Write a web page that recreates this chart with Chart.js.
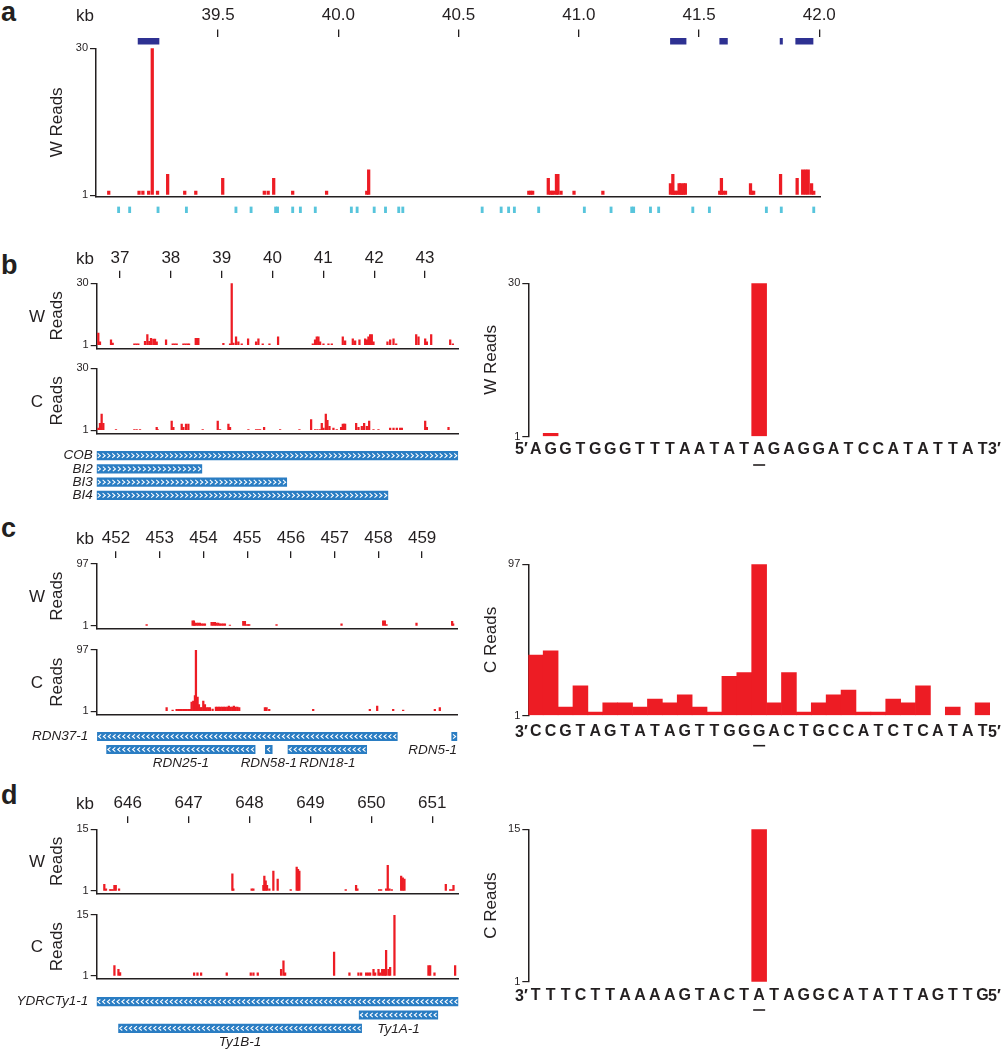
<!DOCTYPE html>
<html>
<head>
<meta charset="utf-8">
<script src="https://cdn.jsdelivr.net/npm/chart.js@4.4.1/dist/chart.umd.min.js"></script>
<style>
html,body{margin:0;padding:0;background:#fff;}
body{width:1005px;height:1050px;position:relative;overflow:hidden;font-family:"Liberation Sans",Arial,Helvetica,sans-serif;color:#231f20;}
canvas{position:absolute;}
.t{position:absolute;line-height:1;white-space:nowrap;color:#231f20;}
</style>
</head>
<body>
<script>
// ================= DATA =================
// ---- panel a ----
const aTicks = [39.5, 40.0, 40.5, 41.0, 41.5, 42.0];
const aReadPos = [39.045,39.171,39.187,39.211,39.226,39.248,39.290,39.361,39.407,39.519,39.692,39.708,39.731,39.810,39.951,40.118,40.126,
  40.792,40.800,40.808,40.873,40.882,40.889,40.896,40.907,40.913,40.926,40.980,41.100,
  41.381,41.391,41.395,41.402,41.409,41.417,41.424,41.429,41.436,41.443,
  41.586,41.593,41.600,41.610,41.714,41.720,41.727,41.839,41.908,41.931,41.943,41.954,41.968,41.977];
const aReadVal = [1.8,1.8,1.8,1.8,30,1.8,5.1,1.8,1.8,4.3,1.8,1.8,4.3,1.8,1.8,1.8,6,
  1.8,1.8,1.8,4.3,1.8,1.8,1.8,5.1,5.1,1.8,1.8,1.8,
  3.3,5.1,1.8,1.8,1.8,3.3,3.3,1.8,3.3,3.3,
  1.8,4.3,1.8,1.8,3.3,1.8,1.8,5.1,4.3,6,6,6,3.3,1.8];
const aFeatStart = [39.167, 41.381, 41.586, 41.837, 41.902];
const aFeatEnd   = [39.254, 41.446, 41.618, 41.847, 41.974];
const aSites = [39.086,39.132,39.250,39.368,39.574,39.637,39.739,39.747,39.810,39.842,39.904,40.054,40.078,40.149,40.196,40.251,40.268,
  40.598,40.677,40.708,40.732,40.833,41.023,41.134,41.220,41.228,41.298,41.332,41.474,41.543,41.780,41.842,41.977];

// ---- panel b ----
const bTicks = [37, 38, 39, 40, 41, 42, 43];
const bWPos = [36.573,36.606,36.823,36.856,37.282,37.322,37.361,37.492,37.538,37.577,37.610,37.656,37.689,37.722,37.906,38.037,38.076,38.115,
  38.247,38.286,38.325,38.358,38.490,38.516,38.542,39.034,39.165,39.198,39.231,39.283,39.329,39.395,39.520,39.677,39.723,39.808,39.940,40.110,
  40.793,40.837,40.871,40.904,40.937,41.003,41.101,41.167,41.383,41.429,41.580,41.626,41.711,41.823,41.856,41.888,41.921,41.954,41.987,
  42.262,42.315,42.381,42.433,42.827,42.873,43.004,43.037,43.122,43.496,43.549];
const bWVal = [6.7,2.6,3.6,2.1,1.7,1.7,1.7,2.9,6,2.9,4.3,3.9,3.9,2.6,3.6,1.7,1.7,1.7,
  1.7,1.7,1.7,1.7,4.3,4.3,4.3,2,1.7,30,2.1,5,2.6,1.7,4,2.6,4,1.7,1.7,5,
  1.7,3.6,5,5,2.6,1.7,1.7,1.7,5,3.1,4,3.1,3.6,4,3.6,5,6,6,2.6,
  2.6,3.6,4,1.7,6,5,4,2.6,6,3.6,1.7];
const bCPos = [36.573,36.606,36.639,36.672,36.921,37.282,37.328,37.394,37.722,37.741,38.017,38.050,38.214,38.247,38.299,38.345,38.627,38.923,38.969,
  39.133,39.165,39.526,39.677,39.717,39.756,39.835,40.150,40.530,40.760,40.839,40.885,40.937,40.970,41.003,41.049,41.081,41.121,41.199,41.265,
  41.350,41.383,41.409,41.429,41.646,41.692,41.757,41.803,41.856,41.902,41.987,42.085,42.315,42.381,42.446,42.512,42.545,43.004,43.037,43.463];
const bCVal = [2.1,4.3,8.6,4.3,1.4,1.4,1.4,1.4,2.4,1.4,5.3,2.4,3.9,2.4,3.9,3.9,1.4,5.3,1.4,
  3.9,2.4,1.4,1.4,1.4,1.4,2.4,1.4,1.4,6.1,1.4,1.4,1.4,4.3,2.1,8.6,5.7,2.9,2.1,1.4,
  2.4,3.9,3.9,3.9,4.3,2.4,2.9,4.3,2.9,5.3,1.4,1.4,2.1,2.1,2.1,2.1,2.1,5.3,2.4,2.4];
const bGeneNames = ['COB', 'BI2', 'BI3', 'BI4'];
const bGeneRow   = [0, 1, 2, 3];
const bGeneStart = [36.540, 36.540, 36.540, 36.540];
const bGeneEnd   = [43.647, 38.610, 40.280, 42.270];
const bGeneDir   = [1, 1, 1, 1];
const bSeq = ['A','G','G','T','G','G','G','T','T','T','A','A','T','A','T','A','G','A','G','G','A','T','C','C','A','T','A','T','T','A','T'];
const bSeqVal = [null,1.6,null,null,null,null,null,null,null,null,null,null,null,null,null,30,null,null,null,null,null,null,null,null,null,null,null,null,null,null,null];

// ---- panel c ----
const cTicks = [452, 453, 454, 455, 456, 457, 458, 459];
const cWPos = [452.701,453.752,453.782,453.805,453.843,453.881,453.920,453.958,453.996,454.034,454.186,454.224,454.262,454.300,454.339,454.377,
  454.415,454.453,454.491,454.605,454.910,454.948,454.986,455.024,455.047,455.671,457.157,458.109,458.147,458.185,458.871,459.686,459.709];
const cWVal = [3.4,9.1,9.1,5.7,5.7,5.7,5.7,4.3,4.3,4.3,6.7,6.7,6.7,5.7,5.7,4.3,
  4.3,4.3,4.3,2.4,8.1,8.1,3.4,3.4,3.4,3.4,4.3,9.1,9.1,3.4,5.7,8.1,4.3];
const cCPos = [453.158,453.295,453.386,453.425,453.463,453.501,453.539,453.577,453.615,453.653,453.691,453.729,453.767,453.805,453.828,453.866,
  453.897,453.935,453.958,453.996,454.034,454.072,454.110,454.148,454.209,454.285,454.320,454.355,454.392,454.430,454.468,454.505,454.544,
  454.580,454.620,454.658,454.695,454.735,454.775,454.818,455.405,455.443,455.504,456.509,457.804,457.972,458.338,458.566,459.290,459.404];
const cCVal = [6.7,2.9,3.9,3.9,3.9,3.9,3.9,3.9,3.9,3.9,3.9,15.3,17.2,25.8,97,23.4,
  11.5,6.7,6.7,17.2,11.5,6.7,6.7,6.7,4.3,7.7,7.7,7.7,7.7,7.7,7.7,7.7,7.7,
  9.1,7.7,7.7,9.1,7.7,7.7,6.7,6.7,6.7,3.9,3.9,3.9,9.1,3.9,2.9,3.9,6.7];
const cGeneNames = ['RDN37-1', 'RDN5-1', 'RDN25-1', 'RDN58-1', 'RDN18-1'];
const cGeneRow   = [0, 0, 1, 1, 1];
const cGeneStart = [451.575, 459.676, 451.786, 455.415, 455.933];
const cGeneEnd   = [458.432, 459.796, 455.181, 455.572, 457.732];
const cGeneDir   = [-1, 1, -1, -1, -1];
const cSeq = ['C','C','G','T','A','G','T','A','T','A','G','T','T','G','G','G','A','C','T','G','C','C','A','T','C','T','C','A','T','A','T'];
const cSeqVal = [39.4,42,6.3,19.9,3.1,9,9,6.3,11.5,9,14.2,6.3,3.1,25.8,28.3,97,9,28.3,3.1,9,14.2,17.2,3.1,3.1,11.5,9,19.9,null,6.3,null,9];

// ---- panel d ----
const dTicks = [646, 647, 648, 649, 650, 651];
const dWPos = [645.616,645.644,645.710,645.732,645.754,645.782,645.804,645.858,647.718,647.734,648.035,648.063,648.227,648.243,648.265,648.287,
  648.325,648.391,648.462,648.676,648.774,648.796,648.818,649.579,649.749,649.771,650.127,650.160,650.242,650.269,650.297,650.335,650.489,
  650.516,650.543,651.222,651.293,651.320,651.348];
const dWVal = [2.5,1.5,1.3,1.3,1.3,2.3,2.3,1.5,4.9,1.5,1.5,1.5,2.3,4.4,3.3,2.3,
  1.5,5.5,3.7,1.3,6.4,5.9,5.5,1.3,2.3,1.5,1.3,1.3,1.5,6.8,1.5,1.3,4.4,
  4.0,3.7,2.5,1.3,1.3,2.3];
const dCPos = [645.782,645.848,645.875,647.090,647.145,647.205,647.626,648.020,648.064,648.135,648.518,648.557,648.584,649.388,649.640,649.788,
  649.832,649.914,649.947,649.980,650.035,650.062,650.117,650.144,650.177,650.199,650.221,650.242,650.281,650.308,650.379,650.937,650.965,651.036,651.375];
const dCVal = [3.4,2.5,1.8,1.7,1.7,1.7,1.7,1.7,1.7,1.7,2.5,4.5,1.7,6.5,1.7,1.7,
  1.7,1.7,1.7,1.7,2.5,1.7,2.5,1.7,2.5,2.5,2.5,6.9,2.5,3.0,15,3.4,3.4,1.7,3.4];
const dGeneNames = ['YDRCTy1-1', 'Ty1A-1', 'Ty1B-1'];
const dGeneRow   = [0, 1, 2];
const dGeneStart = [645.490, 649.800, 645.850];
const dGeneEnd   = [651.430, 651.090, 649.840];
const dGeneDir   = [-1, -1, -1];
const dSeq = ['T','T','T','C','T','T','A','A','A','A','G','T','A','C','T','A','T','A','G','G','C','A','T','A','T','T','A','G','T','T','G'];
const dSeqVal = [null,null,null,null,null,null,null,null,null,null,null,null,null,null,null,15,null,null,null,null,null,null,null,null,null,null,null,null,null,null,null];

// ================= STYLE / HELPERS =================
const RED = '#ed1c24', NAVY = '#2e3192', CYAN = '#58c5dc', BLUE = '#2a7dc3', INK = '#231f20';
Chart.defaults.font.family = '"Liberation Sans", Arial, Helvetica, sans-serif';
Chart.defaults.color = INK;
Chart.defaults.animation = false;
Chart.defaults.plugins.legend.display = false;
Chart.defaults.plugins.tooltip.enabled = false;

const chevrons = {
  id: 'chevrons',
  afterDatasetsDraw(chart, args, opts) {
    const dirs = opts && opts.dirs;
    if (!dirs) return;
    const ctx = chart.ctx;
    ctx.save();
    ctx.strokeStyle = '#ffffff';
    ctx.lineWidth = 1.1;
    chart.getDatasetMeta(0).data.forEach((el, i) => {
      const dir = dirs[i] || 1;
      const p = el.getProps(['x', 'y', 'base', 'height'], true);
      const l = Math.min(p.x, p.base), r = Math.max(p.x, p.base);
      const hh = 2.2, w = 1.3;
      const n = Math.max(1, Math.floor((r - l - 1) / 4.8));
      const step = (r - l) / n;
      ctx.beginPath();
      for (let k = 0; k < n; k++) {
        const cx = l + step * (k + 0.5);
        ctx.moveTo(cx - dir * w, p.y - hh);
        ctx.lineTo(cx + dir * w, p.y);
        ctx.lineTo(cx - dir * w, p.y + hh);
      }
      ctx.stroke();
    });
    ctx.restore();
  }
};
const underline = {
  id: 'underline',
  afterDraw(chart, args, opts) {
    if (!opts || opts.index == null) return;
    const x = chart.scales.x.getPixelForValue(opts.index);
    const y = chart.chartArea.bottom + opts.offset;
    const ctx = chart.ctx;
    ctx.save();
    ctx.strokeStyle = INK; ctx.lineWidth = 1.6;
    ctx.beginPath(); ctx.moveTo(x - 6, y); ctx.lineTo(x + 6, y); ctx.stroke();
    ctx.restore();
  }
};
Chart.register(chevrons, underline);

function txt(str, x, base, size, align, css) {
  const d = document.createElement('div');
  d.className = 't';
  d.textContent = str;
  d.style.fontSize = size + 'px';
  d.style.top = (base - 0.8465 * size) + 'px';
  d.style.left = x + 'px';
  if (align === 'center') d.style.transform = 'translateX(-50%)';
  else if (align === 'right') d.style.transform = 'translateX(-100%)';
  if (css) Object.assign(d.style, css);
  document.body.appendChild(d);
  return d;
}

function mk(area, ext, sz, cfg) {
  const L = Math.floor(area.x0 - ext.l), T = Math.floor(area.y0 - ext.t);
  const R = Math.ceil(area.x1 + ext.r), B = Math.ceil(area.y1 + ext.b);
  const c = document.createElement('canvas');
  c.width = R - L; c.height = B - T;
  c.style.left = L + 'px'; c.style.top = T + 'px';
  c.style.width = (R - L) + 'px'; c.style.height = (B - T) + 'px';
  document.body.appendChild(c);
  cfg.options = cfg.options || {};
  cfg.options.responsive = false;
  cfg.options.devicePixelRatio = 1;
  cfg.options.layout = {padding: {
    left: area.x0 - L - (sz.yW || 0), right: R - area.x1,
    top: area.y0 - T - (sz.topH || 0), bottom: B - area.y1 - (sz.botH || 0)}};
  const ch = new Chart(c, cfg);
  ch.$L = L; ch.$T = T;
  return ch;
}

function yAxis(ymin, ymax, yW, title) {
  return {type: 'linear', min: ymin, max: ymax,
    afterBuildTicks: s => { s.ticks = [{value: 1}, {value: ymax}]; },
    afterFit: s => { s.width = yW; },
    ticks: {font: {size: 11}, padding: 2, color: INK, autoSkip: false},
    grid: {display: true, drawOnChartArea: false, drawTicks: true, tickLength: 6, color: INK, lineWidth: 1.2},
    border: {display: true, color: INK, width: 1.5},
    title: {display: true, text: title, font: {size: 17}, padding: 0, color: INK}};
}

function rulerChart(area, xmin, xmax, ticks, digits, pad, fs, fe) {
  const ds = fs ? fs.map((s, i) => ({x: [s, fe[i]], y: 0.5})) : [];
  const ch = mk(area, {l: area.x0, r: 25, t: 35, b: 0}, {topH: 35}, {
    type: 'bar',
    data: {datasets: [{data: ds, backgroundColor: NAVY, barThickness: 6, borderWidth: 0}]},
    options: {
      indexAxis: 'y',
      scales: {
        x: {type: 'linear', position: 'top', min: xmin, max: xmax, offset: false,
          afterBuildTicks: s => { s.ticks = ticks.map(v => ({value: v})); },
          afterFit: s => { s.height = 35; },
          ticks: {callback: v => Number(v).toFixed(digits), font: {size: 17}, padding: pad, maxRotation: 0, autoSkip: false, color: INK},
          grid: {display: true, drawOnChartArea: false, drawTicks: true, tickLength: 7, color: INK, lineWidth: 1.3},
          border: {display: false}},
        y: {type: 'linear', display: false, min: 0, max: 1, offset: false}
      }
    }
  });
  const cy = ch.$T + ch.scales.x.bottom - 7 - pad - 10.2;
  txt('kb', 94, cy + 0.358 * 17, 17, 'right');
  return ch;
}

function readsChart(area, xmin, xmax, ymin, ymax, pos, val, thick, title, yW, strand) {
  const ch = mk(area, {l: area.x0, r: 25, t: 10, b: 2}, {yW: yW, botH: 0}, {
    type: 'bar',
    data: {datasets: [{data: pos.map((p, i) => ({x: p, y: val[i]})), backgroundColor: RED, barThickness: thick, base: 1, borderWidth: 0}]},
    options: {
      scales: {
        x: {type: 'linear', min: xmin, max: xmax, offset: false, afterFit: s => { s.height = 0; },
          ticks: {display: false}, grid: {display: true, drawOnChartArea: false, drawTicks: false, offset: false},
          border: {display: true, color: INK, width: 1.5}},
        y: yAxis(ymin, ymax, yW, title)
      }
    }
  });
  if (strand) {
    const cy = ch.$T + (ch.chartArea.top + ch.chartArea.bottom) / 2;
    txt(strand, 37, cy + 0.358 * 17, 17, 'center');
  }
  return ch;
}

function siteChart(area, xmin, xmax, pos) {
  return mk(area, {l: area.x0, r: 25, t: 0, b: 0}, {}, {
    type: 'bar',
    data: {datasets: [{data: pos.map(p => ({x: p, y: [0, 1]})), backgroundColor: CYAN, barThickness: 2.2, borderWidth: 0}]},
    options: {scales: {
      x: {type: 'linear', display: false, min: xmin, max: xmax, offset: false},
      y: {type: 'linear', display: false, min: 0, max: 1}}}
  });
}

function geneChart(area, xmin, xmax, nRows, rowLabels, rows, gs, ge, dirs, pad) {
  return mk(area, {l: area.x0, r: 25, t: 20, b: 20}, {yW: 90}, {
    type: 'bar',
    data: {datasets: [{data: gs.map((s, i) => ({x: [s, ge[i]], y: rows[i]})), backgroundColor: BLUE, barThickness: 8.5, borderWidth: 0}]},
    options: {
      indexAxis: 'y',
      scales: {
        x: {type: 'linear', display: false, min: xmin, max: xmax},
        y: {type: 'linear', reverse: true, min: -0.5, max: nRows - 0.5, offset: false,
          afterBuildTicks: s => { s.ticks = rowLabels.map((_, i) => ({value: i})); },
          afterFit: s => { s.width = 90; },
          ticks: {callback: v => rowLabels[v] || '', font: {size: 13.5, style: 'italic'}, padding: pad, color: INK, autoSkip: false},
          grid: {display: false, drawTicks: false, offset: false}, border: {display: false}}
      },
      plugins: {chevrons: {dirs: dirs}}
    }
  });
}
function geneLabel(ch, str, kb, row, align) {
  const x = ch.$L + ch.scales.x.getPixelForValue(kb);
  const y = ch.$T + ch.scales.y.getPixelForValue(row);
  txt(str, x, y + 0.358 * 13.5, 13.5, align, {fontStyle: 'italic'});
}

function seqChart(area, letters, vals, ymax, title, uIdx, pad, uOff, p5, p3) {
  const ch = mk(area, {l: 58.3, r: 15, t: 10, b: 40}, {yW: 47, botH: 40}, {
    type: 'bar',
    data: {labels: letters, datasets: [{data: vals, backgroundColor: RED, barPercentage: 1, categoryPercentage: 1, base: 1, borderWidth: 0}]},
    options: {
      scales: {
        x: {type: 'category', afterFit: s => { s.height = 40; },
          ticks: {font: {size: 16, weight: 'bold'}, padding: pad, autoSkip: false, maxRotation: 0, minRotation: 0, color: INK},
          grid: {display: false, drawTicks: false}, border: {display: false}},
        y: yAxis(1, ymax, 47, title)
      },
      plugins: {underline: {index: uIdx, offset: uOff}}
    }
  });
  const sx = ch.scales.x;
  const base = ch.$T + ch.chartArea.bottom + pad + 9.6 + 0.358 * 16;
  txt(p5, ch.$L + sx.getPixelForValue(0) - 8, base, 16, 'right', {fontWeight: 'bold'});
  txt(p3, ch.$L + sx.getPixelForValue(letters.length - 1) + 5.5, base, 16, 'left', {fontWeight: 'bold'});
  return ch;
}

// ================= BUILD =================
txt('a', 1, 21.5, 27, 'left', {fontWeight: 'bold'});
txt('b', 1, 275, 27, 'left', {fontWeight: 'bold'});
txt('c', 1, 538, 27, 'left', {fontWeight: 'bold'});
txt('d', 1, 805, 27, 'left', {fontWeight: 'bold'});

// ---- a ----
const AX = {x0: 96, x1: 820, min: 38.992, max: 42.003};
rulerChart({x0: AX.x0, x1: AX.x1, y0: 36.5, y1: 46}, AX.min, AX.max, aTicks, 1, 3.5, aFeatStart, aFeatEnd);
readsChart({x0: AX.x0, x1: AX.x1, y0: 48.3, y1: 203}, AX.min, AX.max, 0.75, 30, aReadPos, aReadVal, 2.6, 'W Reads', 49, null);
siteChart({x0: AX.x0, x1: AX.x1, y0: 206.5, y1: 213}, AX.min, AX.max, aSites);

// ---- b ----
const BX = {x0: 96.7, x1: 458.3, min: 36.5416, max: 43.6555};
rulerChart({x0: BX.x0, x1: BX.x1, y0: 277.7, y1: 279.7}, BX.min, BX.max, bTicks, 0, 2.5);
readsChart({x0: BX.x0, x1: BX.x1, y0: 283.3, y1: 354.3}, BX.min, BX.max, -0.414, 30, bWPos, bWVal, 1.6, 'Reads', 50, 'W');
readsChart({x0: BX.x0, x1: BX.x1, y0: 368.3, y1: 439.3}, BX.min, BX.max, -0.414, 30, bCPos, bCVal, 1.6, 'Reads', 50, 'C');
geneChart({x0: BX.x0, x1: BX.x1, y0: 449, y1: 502}, BX.min, BX.max, 4, bGeneNames, bGeneRow, bGeneStart, bGeneEnd, bGeneDir, 4);
seqChart({x0: 528.3, x1: 990, y0: 283.3, y1: 436.5}, bSeq, bSeqVal, 30, 'W Reads', 15, 3.1, 28.5, '5\u2032', '3\u2032');

// ---- c ----
const CX = {x0: 96.7, x1: 457.7, min: 451.559, max: 459.813};
rulerChart({x0: CX.x0, x1: CX.x1, y0: 558.3, y1: 560.3}, CX.min, CX.max, cTicks, 0, 2.5);
readsChart({x0: CX.x0, x1: CX.x1, y0: 564, y1: 634.3}, CX.min, CX.max, -2.7, 97, cWPos, cWVal, 1.6, 'Reads', 50, 'W');
readsChart({x0: CX.x0, x1: CX.x1, y0: 650, y1: 720.7}, CX.min, CX.max, -3.85, 97, cCPos, cCVal, 1.6, 'Reads', 50, 'C');
const gC = geneChart({x0: CX.x0, x1: CX.x1, y0: 730, y1: 756}, CX.min, CX.max, 2, [cGeneNames[0], ''], cGeneRow, cGeneStart, cGeneEnd, cGeneDir, 8.4);
geneLabel(gC, cGeneNames[1], cGeneEnd[1], 1, 'right');
for (let i = 2; i < 5; i++) geneLabel(gC, cGeneNames[i], (cGeneStart[i] + cGeneEnd[i]) / 2, 2, 'center');
seqChart({x0: 528.3, x1: 990, y0: 564.3, y1: 715.5}, cSeq, cSeqVal, 97, 'C Reads', 15, 6.4, 30.2, '3\u2032', '5\u2032');

// ---- d ----
const DX = {x0: 96.7, x1: 458.3, min: 645.491, max: 651.427};
rulerChart({x0: DX.x0, x1: DX.x1, y0: 823.3, y1: 825.3}, DX.min, DX.max, dTicks, 0, 2.5);
readsChart({x0: DX.x0, x1: DX.x1, y0: 829.3, y1: 900}, DX.min, DX.max, 0.444, 15, dWPos, dWVal, 1.6, 'Reads', 50, 'W');
readsChart({x0: DX.x0, x1: DX.x1, y0: 915, y1: 985}, DX.min, DX.max, 0.44, 15, dCPos, dCVal, 1.6, 'Reads', 50, 'C');
const gD = geneChart({x0: DX.x0, x1: DX.x1, y0: 995, y1: 1035}, DX.min, DX.max, 3, [dGeneNames[0], '', ''], dGeneRow, dGeneStart, dGeneEnd, dGeneDir, 8.4);
geneLabel(gD, dGeneNames[1], (dGeneStart[1] + dGeneEnd[1]) / 2, 2, 'center');
geneLabel(gD, dGeneNames[2], (dGeneStart[2] + dGeneEnd[2]) / 2, 3, 'center');
seqChart({x0: 528.3, x1: 990, y0: 829.3, y1: 982}, dSeq, dSeqVal, 15, 'C Reads', 15, 4.2, 28, '3\u2032', '5\u2032');
</script>
</body>
</html>
